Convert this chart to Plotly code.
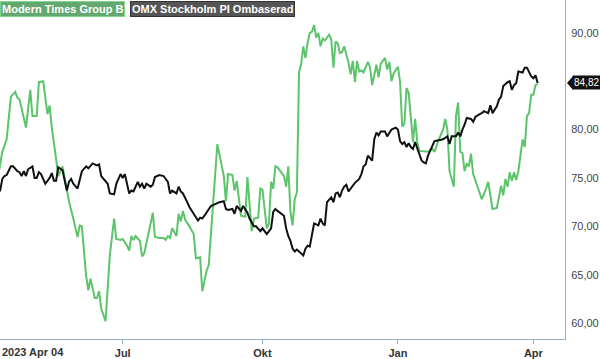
import pandas as pd
import plotly.graph_objects as go

# Trading calendar (Nasdaq Stockholm holidays removed)
holidays = ["2023-04-07", "2023-04-10", "2023-05-01", "2023-05-18", "2023-06-06",
            "2023-06-23", "2023-12-25", "2023-12-26", "2024-01-01", "2024-03-29",
            "2024-04-01"]
trading_days = [d for d in pd.bdate_range("2023-04-04", "2024-04-30")
                if d.strftime("%Y-%m-%d") not in holidays]

# Modern Times Group B (trading-day number since 2023-04-04, price)
mtg_day = [0, 2, 4, 6, 8, 9, 10, 13, 15, 16, 18, 19, 21, 23, 24, 25, 27, 28, 30, 32,
           33, 35, 37, 38, 39, 41, 42, 43, 45, 46, 47, 48, 50, 52, 53, 54, 55, 57, 58, 60,
           61, 62, 63, 64, 66, 67, 68, 70, 72, 73, 75, 77, 78, 79, 80, 81, 83, 84, 85, 86,
           87, 89, 91, 92, 94, 95, 97, 98, 100, 102, 105, 106, 107, 109, 110, 111, 113, 115, 116, 118,
           119, 121, 122, 123, 125, 126, 127, 128, 129, 130, 133, 134, 135, 136, 137, 138, 139, 140, 141, 142,
           143, 144, 145, 146, 147, 148, 149, 150, 151, 152, 154, 155, 156, 157, 158, 159, 160, 161, 163, 164,
           165, 166, 167, 168, 169, 170, 172, 173, 174, 176, 177, 178, 180, 181, 182, 183, 184, 186, 187, 188,
           189, 190, 191, 193, 194, 195, 196, 200, 202, 203, 205, 207, 208, 209, 210, 212, 213, 214, 215, 216,
           217, 218, 219, 220, 221, 223, 225, 227, 228, 230, 232, 234, 235, 236, 237, 238, 239, 240, 241, 242,
           244, 245, 246, 247, 248, 249, 250, 251]
mtg_val = [75.2, 77.7, 79.0, 83.4, 83.9, 83.3, 83.1, 80.2, 84.1, 81.4, 81.4, 84.9, 85.0, 81.6, 82.5, 80.2, 77.0, 75.2, 76.2, 73.9,
           72.6, 70.8, 68.9, 70.1, 70.0, 64.8, 63.4, 64.6, 62.6, 62.6, 63.3, 61.5, 60.2, 67.0, 68.7, 70.8, 68.7, 68.6, 68.7, 68.0,
           67.5, 69.0, 68.6, 69.0, 68.5, 66.9, 67.2, 69.5, 71.4, 68.9, 68.8, 68.8, 68.6, 69.0, 68.8, 69.8, 69.0, 71.3, 70.5, 71.6,
           70.7, 70.0, 69.2, 66.7, 66.8, 63.3, 65.4, 66.0, 72.1, 78.5, 75.2, 72.6, 75.4, 75.3, 73.7, 74.7, 71.1, 71.0, 75.1, 69.5,
           70.8, 70.9, 73.9, 73.8, 69.8, 70.3, 74.6, 73.9, 76.2, 76.1, 75.2, 74.1, 76.2, 71.5, 70.1, 72.8, 73.5, 85.9, 86.8, 88.6,
           87.4, 89.0, 90.0, 90.1, 90.8, 89.5, 90.0, 88.6, 89.4, 89.2, 89.8, 89.3, 86.4, 89.1, 88.9, 87.9, 88.0, 88.6, 86.9, 85.7,
           87.1, 84.9, 87.1, 86.0, 86.1, 85.9, 87.0, 86.5, 84.6, 86.7, 85.4, 86.8, 87.4, 86.2, 87.0, 85.0, 85.8, 86.5, 84.9, 80.3,
           80.6, 84.3, 83.8, 78.7, 81.1, 78.7, 77.8, 77.7, 78.0, 77.7, 79.0, 80.0, 81.1, 80.0, 75.7, 74.1, 81.4, 82.8, 77.7, 77.6,
           75.7, 76.5, 76.2, 77.5, 75.4, 74.2, 72.8, 73.9, 74.6, 71.8, 71.9, 74.2, 73.2, 74.9, 74.1, 75.6, 74.7, 75.6, 74.8, 75.7,
           79.0, 78.2, 81.4, 81.7, 83.6, 83.6, 84.6, 84.7]

# OMX Stockholm PI, rebased
omx_day = [0, 1, 2, 3, 4, 6, 7, 9, 10, 11, 12, 13, 14, 16, 17, 18, 19, 20, 22, 23,
           24, 25, 26, 27, 28, 30, 32, 33, 34, 35, 37, 39, 40, 41, 42, 44, 46, 47, 48, 51,
           52, 54, 55, 57, 58, 59, 61, 62, 63, 65, 66, 67, 68, 69, 71, 72, 73, 75, 77, 79,
           80, 81, 83, 84, 85, 86, 88, 89, 91, 93, 94, 95, 96, 98, 99, 101, 103, 105, 106, 107,
           109, 110, 111, 113, 114, 116, 117, 119, 120, 122, 123, 125, 127, 128, 129, 130, 132, 133, 134, 135,
           136, 137, 138, 139, 140, 142, 143, 144, 145, 146, 147, 148, 149, 150, 151, 152, 153, 155, 156, 157,
           158, 159, 160, 161, 162, 163, 165, 166, 168, 169, 170, 171, 172, 173, 174, 175, 176, 177, 178, 180,
           181, 183, 185, 186, 187, 188, 189, 190, 191, 192, 193, 194, 195, 197, 198, 199, 200, 202, 203, 205,
           207, 209, 210, 211, 213, 214, 215, 216, 217, 218, 220, 221, 222, 224, 225, 226, 228, 229, 230, 232,
           233, 234, 235, 237, 238, 239, 240, 241, 242, 244, 245, 246, 248, 249, 250, 251]
omx_val = [73.5, 73.7, 74.9, 75.2, 75.3, 76.2, 76.2, 75.7, 75.6, 75.2, 75.7, 75.2, 75.9, 76.2, 75.0, 75.0, 75.6, 75.4, 74.4, 74.7,
           75.0, 75.5, 74.7, 74.7, 76.1, 75.8, 73.7, 74.6, 74.9, 74.4, 73.9, 75.7, 75.9, 76.2, 76.0, 76.5, 76.3, 76.4, 75.2, 74.4,
           73.4, 73.3, 74.4, 75.4, 75.0, 75.4, 73.4, 73.7, 73.6, 74.6, 74.1, 74.4, 73.9, 74.4, 74.1, 74.3, 75.1, 75.3, 75.2, 74.6,
           73.4, 73.7, 73.4, 74.1, 73.6, 73.4, 72.5, 72.0, 71.3, 70.6, 70.9, 70.8, 71.1, 71.8, 72.1, 72.3, 72.5, 72.6, 71.8, 71.7,
           71.8, 71.3, 72.1, 71.6, 72.1, 71.4, 70.8, 70.0, 70.0, 69.5, 69.8, 69.2, 69.8, 71.5, 71.8, 71.6, 71.2, 71.1, 69.8, 69.0,
           68.5, 67.7, 67.4, 67.6, 67.4, 67.0, 67.7, 68.0, 67.9, 69.0, 70.3, 70.2, 70.1, 70.8, 70.3, 70.1, 72.5, 73.0, 72.5, 73.4,
           73.5, 73.0, 73.7, 74.1, 74.3, 73.6, 74.2, 74.5, 74.9, 75.4, 76.2, 76.4, 77.3, 77.0, 76.8, 79.0, 79.7, 79.4, 79.8, 79.8,
           79.3, 80.0, 80.2, 80.0, 78.8, 78.5, 78.7, 78.2, 78.6, 78.2, 78.0, 78.7, 78.0, 76.8, 76.6, 76.5, 77.3, 78.2, 78.8, 78.9,
           79.0, 79.3, 78.5, 79.3, 79.3, 79.7, 79.3, 80.0, 80.5, 81.2, 81.1, 80.8, 81.3, 81.6, 81.7, 81.9, 81.7, 82.5, 81.7, 82.4,
           83.1, 83.4, 84.5, 84.9, 85.0, 84.1, 84.6, 84.8, 86.0, 85.9, 86.4, 86.4, 85.5, 85.3, 85.6, 84.82]

series_names = ["Modern Times Group B", "OMX Stockholm PI Ombaserad"]
tick_dates = ["2023-07-03", "2023-10-02", "2024-01-02", "2024-04-02"]
tick_labels = ["Jul", "Okt", "Jan", "Apr"]
first_label = "2023 Apr 04"
y_ticks = [60, 65, 70, 75, 80, 90]

mtg_x = [trading_days[i] for i in mtg_day]
omx_x = [trading_days[i] for i in omx_day]

GREEN = "#5cc46b"
AXIS = "#8fb1c9"
FONT = "Arial, Liberation Sans, sans-serif"

fig = go.Figure()
fig.add_trace(go.Scatter(x=mtg_x, y=mtg_val, mode="lines", name=series_names[0],
                         line=dict(color=GREEN, width=2)))
fig.add_trace(go.Scatter(x=omx_x, y=omx_val, mode="lines", name=series_names[1],
                         line=dict(color="#111111", width=2)))

fig.update_layout(
    width=600, height=359,
    margin=dict(l=0, r=35, t=0, b=18),
    paper_bgcolor="white", plot_bgcolor="white",
    showlegend=False,
    separators=", ",
    font=dict(family=FONT, size=11, color="#333333"),
    xaxis=dict(
        type="date",
        range=["2023-04-04 22:00", "2024-04-22 17:00"],
        rangebreaks=[dict(bounds=["sat", "mon"]), dict(values=holidays)],
        tickvals=tick_dates,
        ticktext=["<b>%s</b>" % t for t in tick_labels],
        ticks="outside", ticklen=4, tickcolor=AXIS, tickwidth=1,
        showline=True, linecolor=AXIS, linewidth=1,
        showgrid=False, zeroline=False,
        tickfont=dict(family=FONT, size=11, color="#333333"),
    ),
    yaxis=dict(
        side="right",
        range=[58.36, 93.39],
        tickvals=y_ticks,
        tickformat=".2f",
        showline=True, linecolor=AXIS, linewidth=1,
        showgrid=False, zeroline=False, ticks="",
        ticklabelstandoff=3,
        tickfont=dict(family=FONT, size=11, color="#444444"),
    ),
)

# first date label, left-aligned at the axis start
fig.add_annotation(xref="paper", yref="paper", x=0, y=0, xanchor="left", yanchor="top",
                   yshift=-5, text="<b>%s</b>" % first_label, showarrow=False,
                   font=dict(family=FONT, size=11, color="#333333"))

# legend tags
fig.add_annotation(xref="paper", yref="paper", x=0, y=1, xanchor="left", yanchor="top",
                   xshift=0, yshift=-1, text="<b>%s</b>" % series_names[0], showarrow=False,
                   bgcolor="#62a870", bordercolor="#7fd88a", borderwidth=1, borderpad=1,
                   font=dict(family=FONT, size=11, color="white"))
fig.add_annotation(xref="paper", yref="paper", x=0, y=1, xanchor="left", yanchor="top",
                   xshift=130, yshift=-1, text="<b>%s</b>" % series_names[1], showarrow=False,
                   bgcolor="#555555", bordercolor="#333333", borderwidth=1, borderpad=1,
                   font=dict(family=FONT, size=11, color="white"))

# last value tag
last_val = omx_val[-1]
fig.add_annotation(xref="paper", yref="y", x=1, y=last_val, xanchor="left", yanchor="middle",
                   xshift=7, text=("%.2f" % last_val).replace(".", ","), showarrow=False,
                   bgcolor="#111111", borderpad=1,
                   font=dict(family=FONT, size=10, color="white"))
fig.add_shape(type="path", xref="paper", yref="y",
              path="M 1.0035 %f L 1.0145 %f L 1.0145 %f Z" % (last_val, last_val + 0.72, last_val - 0.72),
              fillcolor="#111111", line=dict(width=0))

fig.write_html("out.html")
